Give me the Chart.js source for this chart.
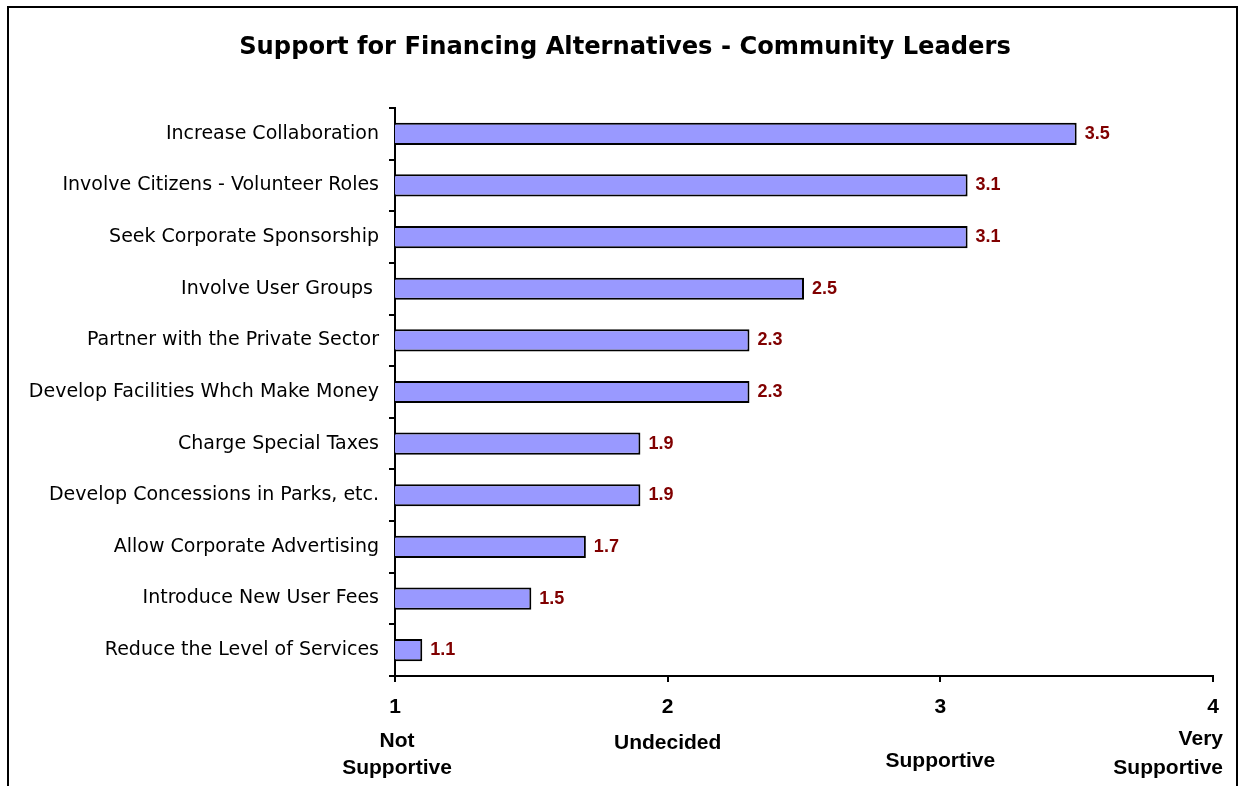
<!DOCTYPE html>
<html>
<head>
<meta charset="utf-8">
<script src="https://cdn.jsdelivr.net/npm/chart.js@4/dist/chart.umd.min.js"></script>
<style>
  html, body { margin: 0; padding: 0; background: #ffffff; }
  #wrap { width: 1243px; height: 786px; position: relative; }
</style>
</head>
<body>
<div id="wrap"><canvas id="c" width="1243" height="786"></canvas></div>
<script>
const categories = [
  'Increase Collaboration',
  'Involve Citizens - Volunteer Roles',
  'Seek Corporate Sponsorship',
  'Involve User Groups ',
  'Partner with the Private Sector',
  'Develop Facilities Whch Make Money',
  'Charge Special Taxes',
  'Develop Concessions in Parks, etc.',
  'Allow Corporate Advertising',
  'Introduce New User Fees',
  'Reduce the Level of Services'
];
const values = [3.5, 3.1, 3.1, 2.5, 2.3, 2.3, 1.9, 1.9, 1.7, 1.5, 1.1];
const xTickValues = [1, 2, 3, 4];
const scaleNotes = [['Not', 'Supportive'], ['Undecided'], ['Supportive'], ['Very', 'Supportive']];
const titleText = 'Support for Financing Alternatives - Community Leaders';

const labelFont = '"DejaVu Sans", sans-serif';
const boldFont = '"Liberation Sans", Arial, sans-serif';

const framePlugin = {
  id: 'frame',
  beforeDraw(chart) {
    const ctx = chart.ctx;
    ctx.save();
    ctx.strokeStyle = '#000';
    ctx.lineWidth = 2;
    ctx.beginPath();
    ctx.moveTo(8, 800);
    ctx.lineTo(8, 7);
    ctx.lineTo(1237, 7);
    ctx.lineTo(1237, 800);
    ctx.stroke();
    ctx.restore();
  },
  afterDraw(chart) {
    const ctx = chart.ctx;
    ctx.save();
    ctx.font = 'bold 24.2px ' + labelFont;
    ctx.fillStyle = '#000';
    ctx.textAlign = 'center';
    ctx.textBaseline = 'middle';
    ctx.fillText(titleText, 625, 48);
    ctx.restore();
  }
};

const valueLabelPlugin = {
  id: 'valueLabels',
  afterDatasetsDraw(chart) {
    const ctx = chart.ctx;
    const meta = chart.getDatasetMeta(0);
    ctx.save();
    ctx.font = 'bold 18px ' + boldFont;
    ctx.fillStyle = '#800000';
    ctx.textAlign = 'left';
    ctx.textBaseline = 'middle';
    meta.data.forEach((bar, i) => {
      ctx.fillText(values[i].toFixed(1), bar.x + 8, bar.y);
    });
    ctx.restore();
  }
};

const notesPlugin = {
  id: 'scaleNotes',
  afterDraw(chart) {
    const ctx = chart.ctx;
    const xs = chart.scales.x;
    const base = xs.top;
    ctx.save();
    ctx.font = 'bold 21px ' + boldFont;
    ctx.fillStyle = '#000';
    ctx.textBaseline = 'middle';
    // per-note vertical offsets and alignment (as laid out in the original)
    const layout = [
      { align: 'center', dx: 2, y: [65, 92] },
      { align: 'center', dx: 0, y: [67] },
      { align: 'center', dx: 0, y: [85] },
      { align: 'right', dx: 10, y: [63, 92] }
    ];
    scaleNotes.forEach((lines, i) => {
      const px = xs.getPixelForValue(xTickValues[i]);
      const l = layout[i];
      ctx.textAlign = l.align;
      lines.forEach((t, j) => ctx.fillText(t, px + l.dx, base + l.y[j]));
    });
    ctx.restore();
  }
};

new Chart(document.getElementById('c'), {
  type: 'bar',
  data: {
    labels: categories,
    datasets: [{
      data: values,
      backgroundColor: '#9999FF',
      borderColor: '#000000',
      borderWidth: 2,
      borderSkipped: false,
      barPercentage: 0.43,
      categoryPercentage: 1.0
    }]
  },
  options: {
    indexAxis: 'y',
    responsive: false,
    animation: false,
    layout: { padding: { left: 0, right: 30, top: 108, bottom: 0 } },
    plugins: {
      legend: { display: false },
      tooltip: { enabled: false },
      title: { display: false }
    },
    scales: {
      y: {
        afterFit(scale) { scale.width = 395; },
        border: { display: true, color: '#000', width: 2 },
        grid: { drawOnChartArea: false, drawTicks: true, tickLength: 6, color: '#000', lineWidth: 2, offset: true },
        ticks: { color: '#000', font: { family: labelFont, size: 19 }, padding: 10 }
      },
      x: {
        min: 1, max: 4,
        afterFit(scale) { scale.height = 110; },
        afterBuildTicks(scale) { scale.ticks = xTickValues.map(v => ({ value: v })); },
        border: { display: true, color: '#000', width: 2 },
        grid: { drawOnChartArea: false, drawTicks: true, tickLength: 6, color: '#000', lineWidth: 2 },
        ticks: { color: '#000', font: { family: boldFont, size: 21, weight: 'bold' }, padding: 13, maxRotation: 0 }
      }
    }
  },
  plugins: [framePlugin, valueLabelPlugin, notesPlugin]
});
</script>
</body>
</html>
